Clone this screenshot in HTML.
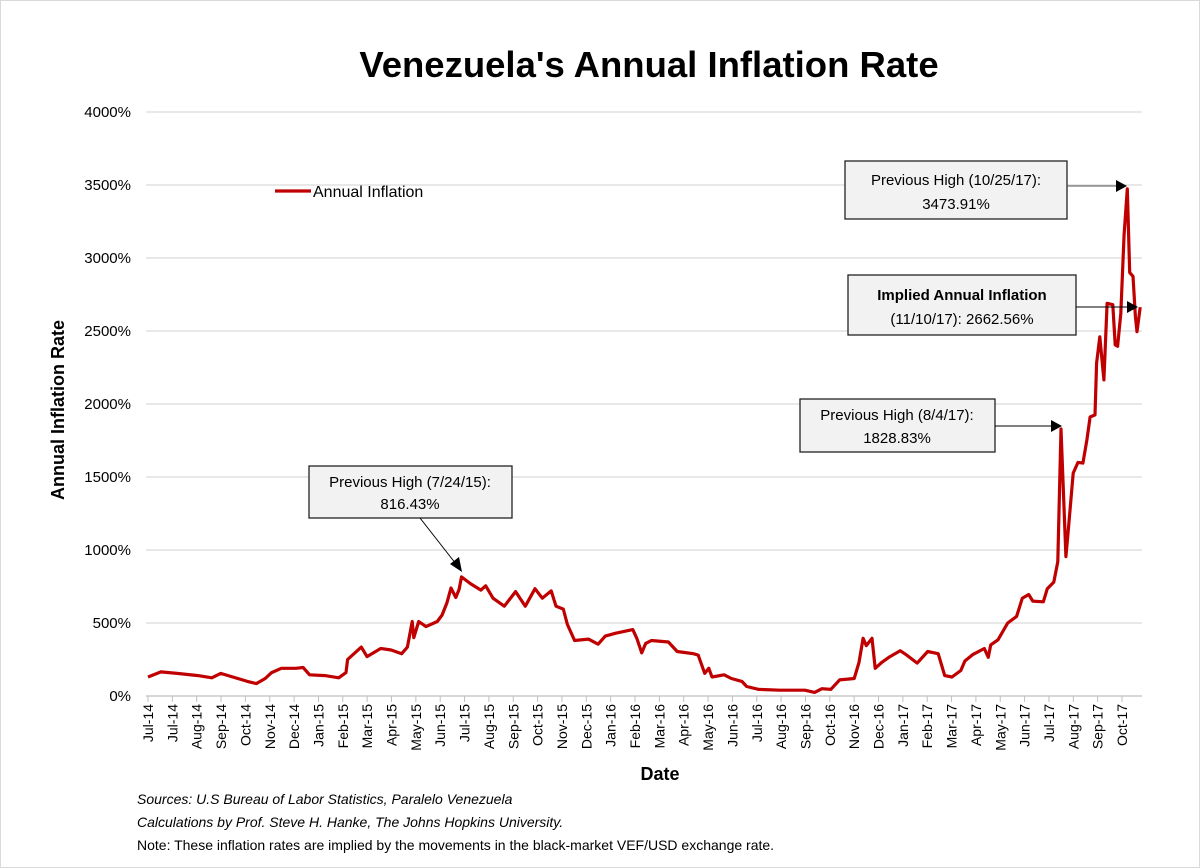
<!DOCTYPE html>
<html><head><meta charset="utf-8"><style>
body{margin:0;background:#fff;}
svg{display:block;font-family:"Liberation Sans",sans-serif;}
</style></head><body>
<svg width="1200" height="868" viewBox="0 0 1200 868">
<rect x="0.5" y="0.5" width="1199" height="867" fill="#fff" stroke="#d9d9d9"/>
<text x="649" y="77" text-anchor="middle" font-size="36.5" font-weight="bold" fill="#000">Venezuela's Annual Inflation Rate</text>
<g id="grid"></g>
<g id="yt"></g>
<g id="xt"></g>
<path id="series" fill="none" stroke="#c00000" stroke-width="3.2" stroke-linejoin="round"/>
<text transform="translate(64,410) rotate(-90)" text-anchor="middle" font-size="18" font-weight="bold">Annual Inflation Rate</text>
<text x="660" y="780" text-anchor="middle" font-size="18" font-weight="bold">Date</text>
<g>
<line x1="275" y1="191" x2="311" y2="191" stroke="#c00000" stroke-width="3.2"/>
<text x="313" y="197" font-size="16">Annual Inflation</text>
</g>
<g font-size="15" text-anchor="middle">
<g>
<rect x="309" y="466" width="203" height="52" fill="#f2f2f2" stroke="#222" stroke-width="1.3"/>
<text x="410" y="487">Previous High (7/24/15):</text><text x="410" y="509">816.43%</text>
<line x1="420" y1="518" x2="456" y2="564" stroke="#000"/>
<polygon points="462,572 450,564 459,557" fill="#000"/>
</g>
<g>
<rect x="800" y="399" width="195" height="53" fill="#f2f2f2" stroke="#222" stroke-width="1.3"/>
<text x="897" y="420">Previous High (8/4/17):</text><text x="897" y="443">1828.83%</text>
<line x1="995" y1="426" x2="1052" y2="426" stroke="#000"/>
<polygon points="1062,426 1051,420 1051,432" fill="#000"/>
</g>
<g>
<rect x="845" y="161" width="222" height="58" fill="#f2f2f2" stroke="#222" stroke-width="1.3"/>
<text x="956" y="185">Previous High (10/25/17):</text><text x="956" y="209">3473.91%</text>
<line x1="1067" y1="186" x2="1117" y2="186" stroke="#555"/>
<polygon points="1127,186 1116,180 1116,192" fill="#000"/>
</g>
<g>
<rect x="848" y="275" width="228" height="60" fill="#f2f2f2" stroke="#222" stroke-width="1.3"/>
<text x="962" y="300" font-weight="bold">Implied Annual Inflation</text><text x="962" y="324">(11/10/17): 2662.56%</text>
<line x1="1076" y1="307" x2="1128" y2="307" stroke="#000"/>
<polygon points="1138,307 1127,301 1127,313" fill="#000"/>
</g>
</g>
<g font-size="14">
<text x="137" y="804" font-style="italic">Sources: U.S Bureau of Labor Statistics, Paralelo Venezuela</text>
<text x="137" y="827" font-style="italic">Calculations by Prof. Steve H. Hanke, The Johns Hopkins University.</text>
<text x="137" y="850">Note: These inflation rates are implied by the movements in the black-market VEF/USD exchange rate.</text>
</g>
</svg>
<script>
const yTicks=[0,500,1000,1500,2000,2500,3000,3500,4000];
const xLabels=["Jul-14","Jul-14","Aug-14","Sep-14","Oct-14","Nov-14","Dec-14","Jan-15","Feb-15","Mar-15","Apr-15","May-15","Jun-15","Jul-15","Aug-15","Sep-15","Oct-15","Nov-15","Dec-15","Jan-16","Feb-16","Mar-16","Apr-16","May-16","Jun-16","Jul-16","Aug-16","Sep-16","Oct-16","Nov-16","Dec-16","Jan-17","Feb-17","Mar-17","Apr-17","May-17","Jun-17","Jul-17","Aug-17","Sep-17","Oct-17"];
const days=[0,16,36,62,79,90,105,123,134,145,153,165,183,192,200,219,236,245,247,264,271,288,301,314,321,327,329,335,344,358,364,370,375,381,385,388,399,412,418,427,441,455,467,479,488,499,505,514,519,528,545,557,566,579,600,605,611,616,623,644,655,675,681,689,694,698,713,722,735,741,756,782,813,825,834,845,856,874,880,885,889,896,900,908,917,931,939,952,965,978,986,995,1006,1011,1021,1035,1040,1043,1052,1064,1075,1082,1090,1095,1108,1113,1121,1126,1130,1136,1139,1145,1151,1157,1162,1166,1172,1174,1178,1183,1187,1194,1197,1200,1204,1208,1212,1215,1219,1222,1224,1228];
const values=[130,165,155,140,125,155,130,100,85,120,160,190,190,195,145,140,125,160,250,335,270,325,315,290,335,510,400,510,475,510,555,640,740,675,730,816,770,725,755,670,615,715,615,735,670,720,615,595,490,380,390,355,410,430,455,395,295,360,380,370,305,290,280,155,190,130,145,120,100,65,45,40,40,25,50,45,110,120,230,395,345,395,190,230,265,310,280,225,305,290,140,130,175,240,285,325,265,350,385,500,545,670,695,650,645,735,780,920,1829,955,1137,1527,1600,1595,1754,1911,1925,2280,2460,2165,2690,2680,2405,2395,2620,3160,3474,2900,2875,2600,2495,2663];
const NS="http://www.w3.org/2000/svg";
const L=146,R=1142,T=112,B=696;
const x=d=>148+d*0.808;
const y=v=>B-v/4000*(B-T);
const grid=document.getElementById('grid'),yt=document.getElementById('yt'),xt=document.getElementById('xt');
function mk(tag,attrs,parent){const e=document.createElementNS(NS,tag);for(const k in attrs)e.setAttribute(k,attrs[k]);parent.appendChild(e);return e;}
yTicks.forEach(v=>{
 const g=mk('line',{x1:L,x2:R,y1:y(v),y2:y(v),stroke:v===0?'#bfbfbf':'#d9d9d9','stroke-width':1.2},grid);
 
 
 const t=mk('text',{x:131,y:y(v)+5,'text-anchor':'end','font-size':15},yt);
 t.textContent=v+'%';
 
 
});
xLabels.forEach((s,i)=>{
 const px=148+i*24.35;
 const tk=mk('line',{x1:px,x2:px,y1:B,y2:B+6,stroke:'#bfbfbf'},xt);
 
 
 const t=mk('text',{transform:`translate(${px+5},${B+8}) rotate(-90)`,'text-anchor':'end','font-size':14},xt);
 t.textContent=s;
 
 
});
document.getElementById('series').setAttribute('d',days.map((d,i)=>(i?'L':'M')+x(d).toFixed(1)+','+y(values[i]).toFixed(1)).join(''));
</script>
</body></html>
